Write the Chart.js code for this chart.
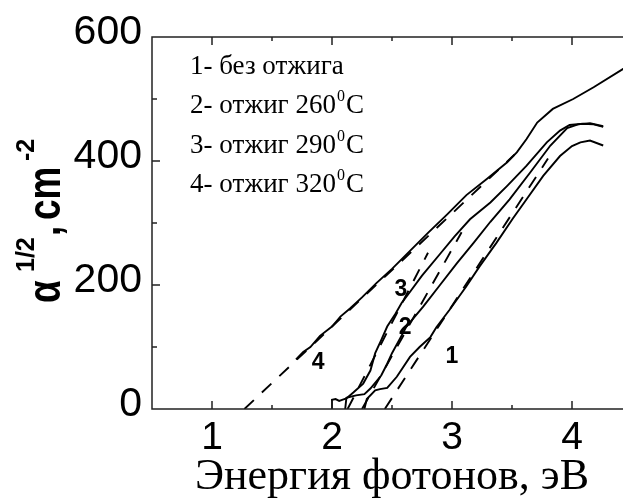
<!DOCTYPE html>
<html>
<head>
<meta charset="utf-8">
<script src="https://cdn.jsdelivr.net/npm/chart.js@4.4.1/dist/chart.umd.min.js"></script>
<style>
	html, body { margin: 0; padding: 0; background: #fff; overflow: hidden; }
	#wrap { width: 632px; height: 504px; }
</style>
</head>
<body>
<div id="wrap"><canvas id="tauc" width="632" height="504"></canvas></div>
<script>
'use strict';

// 1 - без отжига
const curve1X = [2.27, 2.29, 2.36, 2.40, 2.46, 2.54, 2.65, 2.73, 2.82, 2.87, 2.98, 3.12, 3.23, 3.37, 3.51, 3.62, 3.76, 3.90, 4.00, 4.07, 4.15, 4.26];
const curve1Y = [0, 16, 30, 32, 34, 52, 84, 100, 116, 132, 160, 198, 230, 268, 308, 338, 376, 408, 424, 430, 433, 425];

// 2 - отжиг 260
const curve2X = [2.11, 2.12, 2.20, 2.27, 2.32, 2.41, 2.46, 2.50, 2.59, 2.62, 2.76, 2.90, 3.04, 3.18, 3.32, 3.48, 3.65, 3.82, 3.96, 4.05, 4.15, 4.26];
const curve2Y = [0, 18, 22, 24, 33, 54, 73, 90, 122, 133, 165, 200, 235, 268, 302, 338, 381, 425, 453, 459, 461, 456];

// 3 - отжиг 290
const curve3X = [2.00, 2.00, 2.03, 2.06, 2.09, 2.12, 2.18, 2.26, 2.32, 2.36, 2.41, 2.46, 2.53, 2.58, 2.62, 2.75, 2.90, 3.02, 3.15, 3.32, 3.46, 3.62, 3.79, 3.90, 3.98, 4.09, 4.18, 4.26];
const curve3Y = [0, 15, 16, 13, 15, 17, 27, 41, 62, 90, 111, 133, 154, 171, 181, 215, 250, 278, 306, 333, 360, 392, 430, 449, 458, 460, 459, 455];

// 4 - отжиг 320
const curve4X = [1.70, 1.76, 1.82, 1.90, 2.00, 2.07, 2.15, 2.25, 2.37, 2.50, 2.65, 2.80, 2.96, 3.12, 3.29, 3.46, 3.54, 3.62, 3.71, 3.84, 4.01, 4.18, 4.43, 4.50];
const curve4Y = [80, 92, 100, 118, 133, 149, 162, 180, 203, 226, 255, 284, 314, 345, 371, 398, 414, 435, 462, 484, 500, 519, 549, 556];

// linear fits (dashed)
const fit1X = [2.44, 3.80];
const fit1Y = [0, 404];
const fit2X = [2.25, 3.08];
const fit2Y = [0, 285];
const fit3X = [2.13, 2.80];
const fit3Y = [0, 252];
const fit4X = [1.27, 3.52];
const fit4Y = [0, 410];

const xTicks = [1, 2, 3, 4];
const yTicks = [0, 200, 400, 600];
const xMarks = [1, 1.5, 2, 2.5, 3, 3.5, 4];
const yMarks = [100, 200, 300, 400, 500];

const curveLabels = ['1', '2', '3', '4'];
const curveLabelX = [3.00, 2.61, 2.575, 1.885];
const curveLabelY = [84, 132, 192, 74];

const legendNames = ['1- без отжига', '2- отжиг 260', '3- отжиг 290', '4- отжиг 320'];

function toPoints(xs, ys) {
	return xs.map((x, i) => ({ x: x, y: ys[i] }));
}

function solid(xs, ys) {
	return { data: toPoints(xs, ys), borderColor: '#000', borderWidth: 1.9, showLine: true, pointRadius: 0, fill: false };
}

function dashed(xs, ys) {
	return { data: toPoints(xs, ys), borderColor: '#000', borderWidth: 1.9, borderDash: [13, 11], showLine: true, pointRadius: 0, fill: false };
}

// squeezed text along the baseline, the way the original axis label looks
function squeezed(ctx, text, x, y, sx) {
	ctx.save();
	ctx.translate(x, y);
	ctx.scale(sx, 1);
	ctx.fillText(text, 0, 0);
	ctx.restore();
}

function drawYTitle(ctx) {
	ctx.save();
	ctx.translate(60, 303);
	ctx.rotate(-Math.PI / 2);
	ctx.fillStyle = '#000';
	ctx.textAlign = 'left';
	ctx.textBaseline = 'alphabetic';
	ctx.font = 'bold 46px "Liberation Sans"';
	squeezed(ctx, 'α', 0, 0, 0.8);
	ctx.font = 'bold 25px "Liberation Sans"';
	ctx.fillText('1/2', 31, -26);
	ctx.font = 'bold 46px "Liberation Sans"';
	squeezed(ctx, ',', 67, 0, 0.8);
	squeezed(ctx, 'cm', 83, 0, 0.8);
	ctx.font = 'bold 25px "Liberation Sans"';
	ctx.fillText('-2', 142, -26);
	ctx.restore();
}

const frameAndNotes = {
	id: 'frameAndNotes',
	afterDraw(chart) {
		const ctx = chart.ctx;
		const xs = chart.scales.x;
		const ys = chart.scales.y;
		const area = chart.chartArea;

		ctx.save();
		ctx.strokeStyle = '#222';
		ctx.lineWidth = 1.5;
		ctx.beginPath();
		ctx.moveTo(area.right + 2, area.top);
		ctx.lineTo(area.left, area.top);
		ctx.lineTo(area.left, area.bottom);
		ctx.lineTo(area.right + 2, area.bottom);
		xMarks.forEach(v => {
			const px = xs.getPixelForValue(v);
			const len = Number.isInteger(v) ? 8 : 4;
			ctx.moveTo(px, area.bottom);
			ctx.lineTo(px, area.bottom - len);
			ctx.moveTo(px, area.top);
			ctx.lineTo(px, area.top + len);
		});
		yMarks.forEach(v => {
			const py = ys.getPixelForValue(v);
			const len = v % 200 === 0 ? 8 : 5;
			ctx.moveTo(area.left, py);
			ctx.lineTo(area.left + len, py);
		});
		ctx.stroke();

		// numbers on curves
		ctx.fillStyle = '#000';
		ctx.font = 'bold 23px "Liberation Sans"';
		ctx.textAlign = 'center';
		ctx.textBaseline = 'middle';
		curveLabels.forEach((t, i) => {
			ctx.fillText(t, xs.getPixelForValue(curveLabelX[i]), ys.getPixelForValue(curveLabelY[i]));
		});

		// legend text block
		ctx.textAlign = 'left';
		ctx.textBaseline = 'alphabetic';
		legendNames.forEach((t, i) => {
			const y = 74 + i * 39.3;
			ctx.font = '27px "Liberation Serif"';
			ctx.fillText(t, 190, y);
			if (i > 0) {
				let x = 190 + ctx.measureText(t).width + 1;
				ctx.font = '16px "Liberation Serif"';
				ctx.fillText('0', x, y - 12);
				x += ctx.measureText('0').width + 1;
				ctx.font = '27px "Liberation Serif"';
				ctx.fillText('C', x, y);
			}
		});
		ctx.restore();

		drawYTitle(ctx);
	}
};

new Chart(document.getElementById('tauc'), {
	type: 'scatter',
	data: {
		datasets: [
			solid(curve1X, curve1Y),
			solid(curve2X, curve2Y),
			solid(curve3X, curve3Y),
			solid(curve4X, curve4Y),
			dashed(fit1X, fit1Y),
			dashed(fit2X, fit2Y),
			dashed(fit3X, fit3Y),
			dashed(fit4X, fit4Y)
		]
	},
	options: {
		responsive: false,
		animation: false,
		layout: { padding: { top: 37, left: 0, right: 0, bottom: 0 } },
		plugins: {
			legend: { display: false },
			tooltip: { enabled: false }
		},
		scales: {
			x: {
				type: 'linear',
				min: 0.5,
				max: 4.5,
				afterBuildTicks: (scale) => { scale.ticks = xTicks.map(v => ({ value: v })); },
				afterFit: (scale) => { scale.height = 95; },
				grid: { display: false },
				border: { display: false },
				ticks: {
					color: '#000',
					padding: -2,
					maxRotation: 0,
					font: { family: 'Liberation Sans', size: 39 }
				},
				title: {
					display: true,
					text: 'Энергия фотонов, эВ',
					color: '#000',
					padding: { top: 0, bottom: 0 },
					font: { family: 'Liberation Serif', size: 44, weight: 'normal' }
				}
			},
			y: {
				type: 'linear',
				min: 0,
				max: 600,
				afterBuildTicks: (scale) => { scale.ticks = yTicks.map(v => ({ value: v })); },
				afterFit: (scale) => { scale.width = 152; },
				grid: { display: false },
				border: { display: false },
				ticks: {
					color: '#000',
					padding: 2,
					labelOffset: -4,
					font: { family: 'Liberation Sans', size: 41 }
				}
			}
		}
	},
	plugins: [frameAndNotes]
});
</script>
</body>
</html>
